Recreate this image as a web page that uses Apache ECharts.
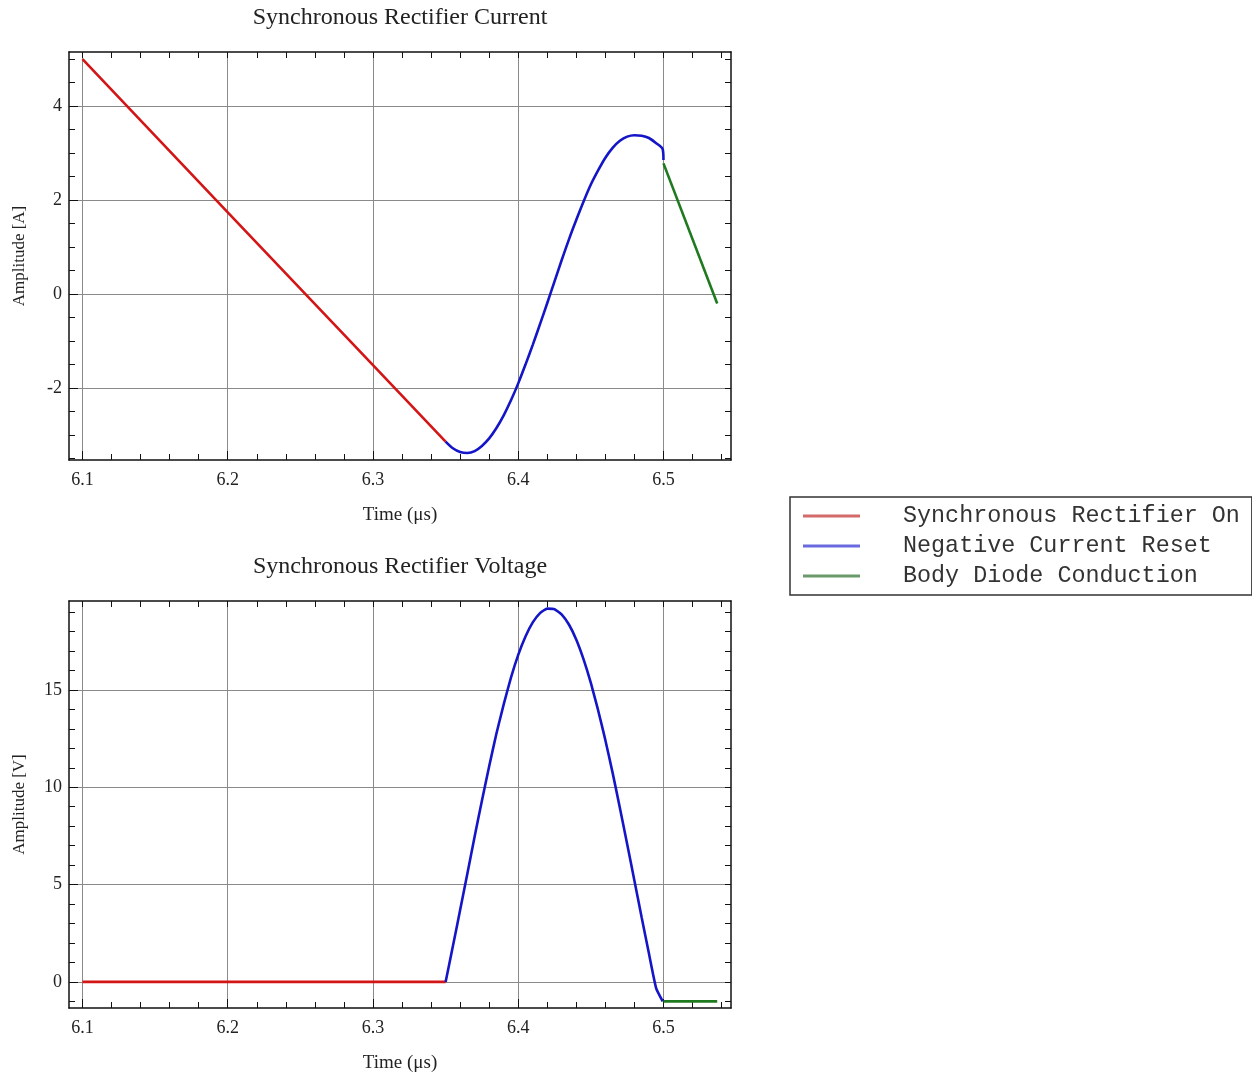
<!DOCTYPE html>
<html>
<head>
<meta charset="utf-8">
<script src="https://cdn.jsdelivr.net/npm/echarts@6/dist/echarts.min.js"></script>
<style>
html, body { margin: 0; background: #fff; }
#chart { width: 1252px; height: 1076px; }
</style>
</head>
<body>
<div id="chart"></div>
<script>
// legend names
const names = ['Synchronous Rectifier On', 'Negative Current Reset', 'Body Diode Conduction']

// tick values
const xMajor = [6.1, 6.2, 6.3, 6.4, 6.5]
const xMinor = [6.1, 6.12, 6.14, 6.16, 6.18, 6.2, 6.22, 6.24, 6.26, 6.28, 6.3, 6.32, 6.34, 6.36, 6.38, 6.4, 6.42, 6.44, 6.46, 6.48, 6.5, 6.52, 6.54]
const iMajor = [-2, 0, 2, 4]
const iMinor = [-3.5, -3, -2.5, -2, -1.5, -1, -0.5, 0, 0.5, 1, 1.5, 2, 2.5, 3, 3.5, 4, 4.5, 5]
const vMajor = [0, 5, 10, 15]
const vMinor = [-1, 0, 1, 2, 3, 4, 5, 6, 7, 8, 9, 10, 11, 12, 13, 14, 15, 16, 17, 18, 19]

// current (A)
const redTimeI = [6.1, 6.2, 6.3, 6.35]
const redCurrent = [5.0, 1.74, -1.51, -3.14]
const blueTimeI = [6.35, 6.355, 6.36, 6.365, 6.37, 6.375, 6.38, 6.385, 6.39, 6.395, 6.4, 6.405, 6.41, 6.415, 6.42, 6.425, 6.43, 6.435, 6.44, 6.445, 6.45, 6.455, 6.46, 6.465, 6.47, 6.475, 6.48, 6.485, 6.49, 6.495, 6.4995, 6.5]
const blueCurrent = [-3.14, -3.28, -3.36, -3.38, -3.34, -3.23, -3.07, -2.85, -2.58, -2.26, -1.9, -1.5, -1.08, -0.64, -0.19, 0.27, 0.73, 1.17, 1.58, 1.97, 2.33, 2.63, 2.9, 3.11, 3.26, 3.35, 3.38, 3.37, 3.32, 3.21, 3.08, 2.85]
const greenTimeI = [6.5, 6.537]
const greenCurrent = [2.78, -0.2]

// voltage (V)
const redTimeV = [6.1, 6.35]
const redVoltage = [0, 0]
const blueTimeV = [6.35, 6.355, 6.36, 6.365, 6.37, 6.375, 6.38, 6.385, 6.39, 6.395, 6.4, 6.405, 6.41, 6.415, 6.42, 6.425, 6.43, 6.435, 6.44, 6.445, 6.45, 6.455, 6.46, 6.465, 6.47, 6.475, 6.48, 6.485, 6.49, 6.495, 6.4995]
const blueVoltage = [0, 1.83, 3.69, 5.57, 7.47, 9.31, 11.08, 12.76, 14.26, 15.63, 16.8, 17.75, 18.47, 18.95, 19.18, 19.15, 18.87, 18.35, 17.58, 16.57, 15.36, 13.96, 12.42, 10.74, 8.94, 7.09, 5.2, 3.31, 1.46, -0.33, -1.0]
const greenTimeV = [6.5, 6.537]
const greenVoltage = [-1.0, -1.0]

const colors = ['#d41515', '#1515c8', '#1f7a1f']
const legendColors = ['#d46a6a', '#6a6ae0', '#6a9a6a']

const serif = 'Liberation Serif'
const frame = { show: true, onZero: false, lineStyle: { color: '#111', width: 1.5 } }
const grid = { show: true, lineStyle: { color: '#8a8a8a', width: 1 } }
const labelStyle = { fontFamily: serif, fontSize: 18, color: '#222' }

function pairs(t, v) {
    return t.map((x, i) => [x, v[i]])
}

// three axes per side: main (labels + grid), minor ticks, opposite frame
function xAxes(gridIndex, title) {
    const base = { type: 'value', gridIndex: gridIndex, min: 6.0907, max: 6.5465 }
    return [
        Object.assign({}, base, {
            position: 'bottom',
            name: 'Time (μs)', nameLocation: 'middle', nameGap: 46,
            nameTextStyle: { fontFamily: serif, fontSize: 19, color: '#222' },
            axisLine: frame,
            axisTick: { inside: true, length: 9, customValues: xMajor, lineStyle: { color: '#111' } },
            axisLabel: Object.assign({ customValues: xMajor, margin: 11 }, labelStyle),
            splitLine: grid
        }),
        Object.assign({}, base, {
            position: 'bottom',
            axisLine: { show: false, onZero: false },
            axisTick: { inside: true, length: 6, customValues: xMinor, lineStyle: { color: '#111' } },
            axisLabel: { show: false },
            splitLine: { show: false }
        }),
        Object.assign({}, base, {
            position: 'top',
            name: title, nameLocation: 'middle', nameGap: 22,
            nameTextStyle: { fontFamily: serif, fontSize: 24, color: '#222' },
            axisLine: frame,
            axisTick: { inside: true, length: 6, customValues: xMinor, lineStyle: { color: '#111' } },
            axisLabel: { show: false },
            splitLine: { show: false }
        })
    ]
}

function yAxes(gridIndex, min, max, major, minor, name) {
    const base = { type: 'value', gridIndex: gridIndex, min: min, max: max }
    return [
        Object.assign({}, base, {
            position: 'left',
            name: name, nameLocation: 'middle', nameGap: 41,
            nameTextStyle: { fontFamily: serif, fontSize: 17, color: '#222' },
            axisLine: frame,
            axisTick: { inside: true, length: 9, customValues: major, lineStyle: { color: '#111' } },
            axisLabel: Object.assign({ customValues: major, margin: 7 }, labelStyle),
            splitLine: grid
        }),
        Object.assign({}, base, {
            position: 'left',
            axisLine: { show: false, onZero: false },
            axisTick: { inside: true, length: 6, customValues: minor, lineStyle: { color: '#111' } },
            axisLabel: { show: false },
            splitLine: { show: false }
        }),
        Object.assign({}, base, {
            position: 'right',
            axisLine: frame,
            axisTick: { inside: true, length: 6, customValues: minor, lineStyle: { color: '#111' } },
            axisLabel: { show: false },
            splitLine: { show: false }
        })
    ]
}

function line(name, data, axisIndex, color, smooth) {
    return {
        name: name, type: 'line', data: data,
        xAxisIndex: axisIndex, yAxisIndex: axisIndex,
        showSymbol: false, symbol: 'none', smooth: smooth,
        lineStyle: { color: color, width: 2.6 },
        itemStyle: { color: color },
        animation: false
    }
}

let chart = echarts.init(document.getElementById('chart'))
let option = {
    backgroundColor: '#fff',
    animation: false,
    grid: [
        { left: 69, top: 52, width: 662, height: 408 },
        { left: 69, top: 601, width: 662, height: 407 }
    ],
    xAxis: xAxes(0, 'Synchronous Rectifier Current').concat(xAxes(1, 'Synchronous Rectifier Voltage')),
    yAxis: yAxes(0, -3.53, 5.15, iMajor, iMinor, 'Amplitude [A]')
        .concat(yAxes(1, -1.34, 19.57, vMajor, vMinor, 'Amplitude [V]')),
    legend: {
        orient: 'vertical', left: 790, top: 497,
        padding: [7, 12, 7, 13],
        borderColor: '#333', borderWidth: 1.5,
        icon: 'rect', itemWidth: 57, itemHeight: 3, itemGap: 6,
        textStyle: { fontFamily: 'Liberation Mono', fontSize: 23.4, lineHeight: 24, color: '#333', padding: [0, 0, 0, 38] },
        data: names.map((n, i) => ({ name: n, itemStyle: { color: legendColors[i] } }))
    },
    series: [
        line(names[0], pairs(redTimeI, redCurrent), 0, colors[0], false),
        line(names[1], pairs(blueTimeI, blueCurrent), 0, colors[1], 0.3),
        line(names[2], pairs(greenTimeI, greenCurrent), 0, colors[2], false),
        line(names[0], pairs(redTimeV, redVoltage), 3, colors[0], false),
        line(names[1], pairs(blueTimeV, blueVoltage), 3, colors[1], 0.15),
        line(names[2], pairs(greenTimeV, greenVoltage), 3, colors[2], false)
    ]
}
chart.setOption(option)
</script>
</body>
</html>
